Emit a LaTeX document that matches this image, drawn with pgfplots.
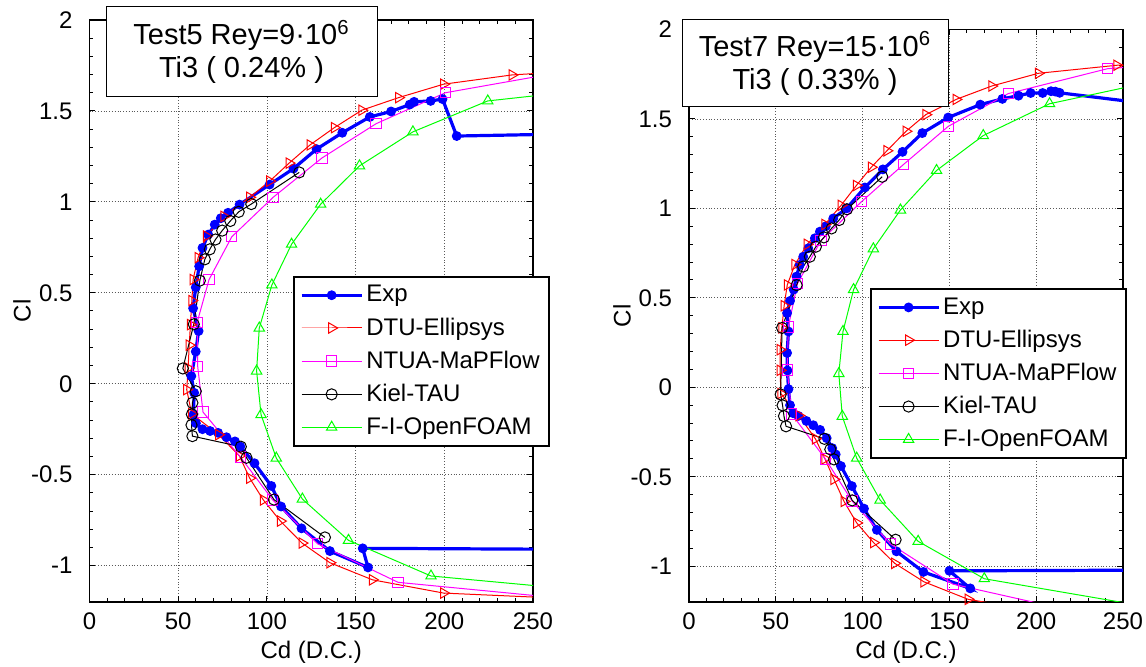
\documentclass[border=0pt]{standalone}
\usepackage{fontspec}
\setmainfont{Liberation Sans}
\usepackage{pgfplots}
\pgfplotsset{compat=1.18}

\definecolor{cblue}{RGB}{0,0,255}
\definecolor{cred}{RGB}{255,0,0}
\definecolor{cmag}{RGB}{255,0,255}
\definecolor{cgreen}{RGB}{0,255,0}

\newcommand\tickfont{\fontsize{12}{14}\selectfont}

\pgfplotsset{
  polar/.style={
    scale only axis,
    anchor=south west,
    xmin=0, xmax=250, ymin=-1.2, ymax=2,
    xtick={0,50,...,250},
    ytick={-1,-0.5,0,0.5,1,1.5,2},
    minor x tick num=4, minor y tick num=4,
    tick align=inside,
    major tick length=3pt, minor tick length=2pt,
    every tick/.style={black, line width=0.5pt},
    axis line style={line width=0.8pt},
    grid=major,
    grid style={densely dotted, black!65, line width=0.4pt},
    /pgf/number format/assume math mode=true,
    tick label style={font=\tickfont},
    yticklabel style={xshift=-5pt},
    xticklabel style={yshift=-1.7pt},
    label style={font=\tickfont},
    xlabel={Cd (D.C.)},
    ylabel={Cl},
    legend cell align=left,
    legend style={anchor=north west, draw=black, line width=1pt,
      font=\tickfont, inner xsep=3pt, inner ysep=1pt, row sep=0pt,
      nodes={inner xsep=1.5pt, inner ysep=3.2pt}},
    legend image code/.code={\draw[mark repeat=2,mark phase=2,##1]
      plot coordinates {(0pt,0pt) (15pt,0pt) (30pt,0pt)};},
  },
  expstyle/.style={color=cblue, line width=1.6pt, mark=*, mark size=2.2pt,
    mark options={fill=cblue, draw=cblue, line width=0.5pt}},
  dtustyle/.style={color=cred, line width=0.5pt, mark=triangle, mark size=3pt,
    mark options={rotate=-90, fill=none}},
  ntuastyle/.style={color=cmag, line width=0.5pt, mark=square, mark size=2.6pt},
  kielstyle/.style={color=black, line width=0.5pt, mark=o, mark size=2.8pt},
  fistyle/.style={color=cgreen, line width=0.5pt, mark=triangle, mark size=3pt},
}

\begin{document}
\begin{tikzpicture}
\useasboundingbox (0,0) rectangle (573pt,333.5pt);

% ---------- Test5 ----------
\begin{axis}[polar, at={(44.75pt,32.5pt)}, width=221.75pt, height=291pt,
  xlabel style={at={(axis description cs:0.5,-0.086)}, anchor=center},
  ylabel style={at={(axis description cs:-0.152,0.5)}, anchor=center},
  legend style={at={(axis description cs:0.459,0.560)}}]

\addplot[expstyle] coordinates {
(262,-0.91) (154,-0.905) (157,-1.01) (135.5,-0.92) (119.5,-0.795) (108,-0.675)
(102.5,-0.562) (93,-0.437) (85,-0.345) (82,-0.317) (77.2,-0.294) (72.5,-0.27)
(68,-0.26) (63.7,-0.25) (60,-0.217) (58.6,-0.17) (59,-0.05) (57.4,0.042)
(59.9,0.177) (61.5,0.29) (58.4,0.415) (59.9,0.53) (61.8,0.646) (63.7,0.747)
(66.9,0.82) (70.6,0.875) (74,0.91) (78.1,0.94) (84.6,0.985) (101.5,1.095)
(115,1.183) (128,1.29) (142.5,1.38) (158,1.467) (170,1.497) (180.5,1.535)
(183,1.55) (192.3,1.555) (199,1.565) (207,1.362) (262,1.372)
};
\addlegendentry{Exp}

\addplot[dtustyle] coordinates {
(262,-1.178) (199.6,-1.151) (159.5,-1.078) (135.5,-0.984) (119.8,-0.876)
(107.6,-0.755) (98,-0.639) (90.3,-0.519) (84.5,-0.397) (72.8,-0.28)
(57.6,-0.165) (54.8,-0.032) (55.6,0.086) (56.2,0.212) (56.9,0.325)
(57.7,0.457) (58.4,0.573) (61.2,0.693) (65.9,0.812) (75.8,0.92) (90.3,1.025)
(101.6,1.114) (112.5,1.213) (124.3,1.313) (138,1.408) (153.5,1.504)
(174.2,1.573) (199.6,1.647) (238.2,1.698) (262,1.712)
};
\addlegendentry{DTU-Ellipsys}

\addplot[ntuastyle] coordinates {
(262,-1.175) (174,-1.092) (128.6,-0.88) (103.3,-0.639) (85,-0.402) (64,-0.156)
(61,0.094) (60.7,0.338) (67.4,0.573) (80.2,0.808) (103.5,1.025) (131,1.241)
(161.6,1.43) (200.6,1.6) (262,1.706)
};
\addlegendentry{NTUA-MaPFlow}

\addplot[kielstyle] coordinates {
(132.7,-0.845) (104,-0.637) (88.5,-0.407) (85.3,-0.346) (58,-0.288)
(57.5,-0.227) (57.7,-0.168) (58,-0.105) (59.9,-0.041) (52.6,0.084)
(58.8,0.327) (62.2,0.567) (65,0.684) (67.8,0.739) (71,0.793) (74.8,0.842)
(79.4,0.895) (84.1,0.945) (91.2,0.988) (118.2,1.162)
};
\addlegendentry{Kiel-TAU}

\addplot[fistyle] coordinates {
(262,-1.12) (192.5,-1.057) (146,-0.861) (120,-0.634) (105.3,-0.409)
(96.7,-0.17) (94.2,0.07) (95.7,0.306) (102.8,0.543) (113.9,0.767)
(130.3,0.987) (152.2,1.198) (182.3,1.385) (224.5,1.555) (262,1.595)
};
\addlegendentry{F-I-OpenFOAM}
\end{axis}

% ---------- Test7 ----------
\begin{axis}[polar, at={(344.5pt,32.5pt)}, width=217pt, height=286.25pt,
  xlabel style={at={(axis description cs:0.5,-0.087)}, anchor=center},
  ylabel style={at={(axis description cs:-0.154,0.5)}, anchor=center},
  legend style={at={(axis description cs:0.417,0.548)}}]

\addplot[expstyle] coordinates {
(262,-1.022) (150,-1.026) (162,-1.124) (135,-1.032) (119.5,-0.917)
(108.2,-0.797) (100.8,-0.678) (93.8,-0.552) (87.5,-0.44) (84.5,-0.375)
(82.5,-0.34) (79.3,-0.284) (75.5,-0.238) (71.6,-0.212) (67.6,-0.188)
(63,-0.16) (60,-0.145) (58.2,-0.1) (57.3,-0.01) (56.7,0.094) (56.5,0.192)
(57.3,0.312) (56.5,0.415) (58.2,0.483) (60.3,0.546) (61.9,0.619)
(63.8,0.684) (65.8,0.73) (68.7,0.777) (72.5,0.833) (75.4,0.87) (78.8,0.9)
(83.1,0.944) (90.8,1.0) (101.3,1.117) (111.7,1.218) (123,1.316)
(134.4,1.421) (149.3,1.508) (167.8,1.58) (180.5,1.612) (189.8,1.63)
(196.8,1.645) (203.7,1.645) (208.5,1.655) (211,1.653) (213.5,1.646)
(262,1.588)
};
\addlegendentry{Exp}

\addplot[dtustyle] coordinates {
(200,-1.25) (160.8,-1.185) (135.3,-1.087) (118.5,-0.984) (106.3,-0.868)
(96.6,-0.758) (89.3,-0.638) (83.5,-0.514) (78.3,-0.40) (72.8,-0.288)
(63.3,-0.158) (52.9,-0.035) (52.5,0.095) (52.5,0.21) (53.5,0.332)
(54.8,0.456) (56.6,0.572) (61,0.686) (68.1,0.799) (78.3,0.91) (87.6,1.017)
(96.4,1.128) (105,1.23) (114,1.322) (125,1.431) (136.4,1.524)
(153.8,1.609) (174.4,1.684) (201.2,1.755) (246.4,1.8) (262,1.81)
};
\addlegendentry{DTU-Ellipsys}

\addplot[ntuastyle] coordinates {
(230,-1.27) (152,-1.1) (115.9,-0.875) (93.9,-0.635) (78.5,-0.4)
(59.2,-0.15) (56.6,0.097) (57.2,0.338) (62.5,0.58) (76,0.82) (99.3,1.037)
(123.5,1.245) (149.4,1.459) (184,1.642) (241.2,1.781) (262,1.795)
};
\addlegendentry{NTUA-MaPFlow}

\addplot[kielstyle] coordinates {
(119,-0.852) (94,-0.632) (83.5,-0.403) (81.4,-0.347) (78,-0.288)
(55.9,-0.218) (54.7,-0.161) (53.9,-0.101) (52.8,-0.04) (53.6,0.332)
(62,0.571) (65.8,0.675) (69.6,0.73) (73.1,0.786) (77.7,0.838) (82.1,0.888)
(86.5,0.935) (91,0.995) (111.3,1.177)
};
\addlegendentry{Kiel-TAU}

\addplot[fistyle] coordinates {
(262,-1.223) (170.1,-1.07) (132,-0.861) (110.1,-0.63) (96.6,-0.396)
(88.3,-0.162) (86.3,0.077) (88.7,0.312) (94.8,0.546) (106.2,0.774)
(121.8,0.991) (142.6,1.212) (169.5,1.407) (207.7,1.585) (262,1.698)
};
\addlegendentry{F-I-OpenFOAM}
\end{axis}

% title boxes
\node[draw=black, fill=white, line width=0.5pt, minimum width=135.5pt,
  minimum height=45pt, align=center, font=\fontsize{14.5}{16.5}\selectfont]
  at (120.75pt,307.5pt) {Test5 Rey=9·10\textsuperscript{6}\\Ti3 ( 0.24\% )};
\node[draw=black, fill=white, line width=0.5pt, minimum width=133pt,
  minimum height=43.5pt, align=center, font=\fontsize{14.5}{16.5}\selectfont]
  at (407.5pt,301.75pt) {Test7 Rey=15·10\textsuperscript{6}\\Ti3 ( 0.33\% )};
\end{tikzpicture}
\end{document}
